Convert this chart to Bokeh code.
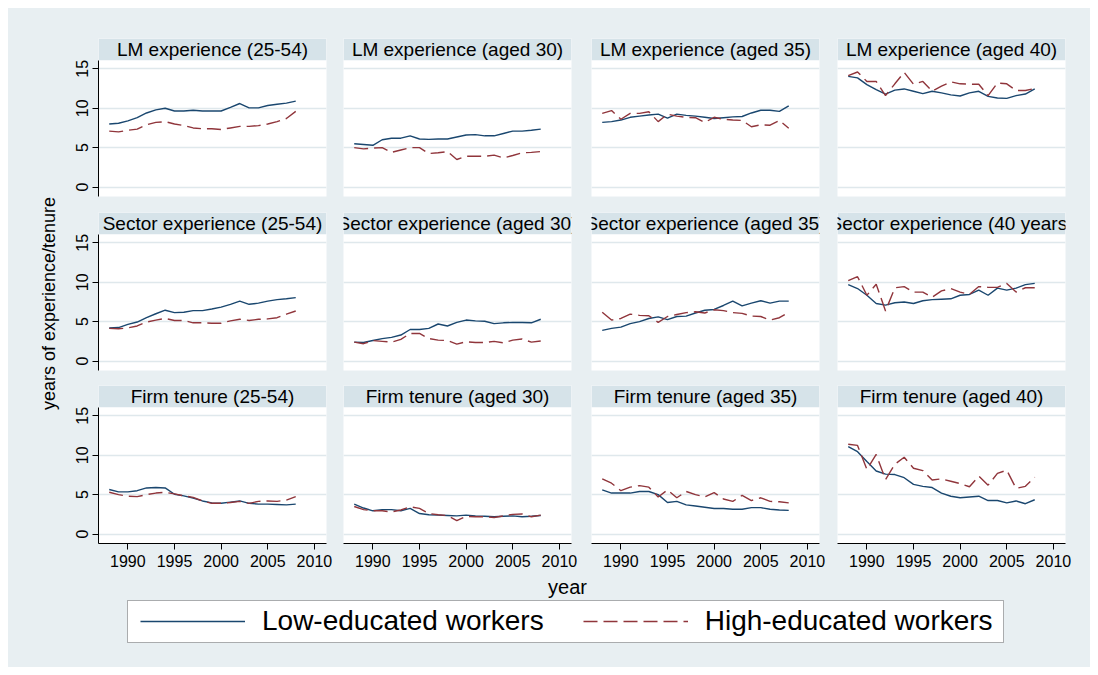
import math
from bokeh.plotting import figure
from bokeh.layouts import row, column
from bokeh.models import Range1d, FixedTicker, Label, BoxAnnotation, Legend, LegendItem
from bokeh.embed import file_html
from bokeh.resources import INLINE

# ---------------- data ----------------
years = list(range(1988, 2009))

titles_row1 = ["LM experience (25-54)", "LM experience (aged 30)", "LM experience (aged 35)", "LM experience (aged 40)"]
titles_row2 = ["Sector experience (25-54)", "Sector experience (aged 30)", "Sector experience (aged 35)", "Sector experience (40 years)"]
titles_row3 = ["Firm tenure (25-54)", "Firm tenure (aged 30)", "Firm tenure (aged 35)", "Firm tenure (aged 40)"]

lm_2554_low = [8.0, 8.1, 8.4, 8.8, 9.4, 9.8, 10.0, 9.65, 9.65, 9.75, 9.65, 9.65, 9.65, 10.1, 10.6, 10.05, 10.05, 10.35, 10.5, 10.65, 10.9]
lm_2554_high = [7.1, 7.0, 7.2, 7.35, 7.9, 8.2, 8.3, 8.0, 7.8, 7.5, 7.4, 7.4, 7.3, 7.5, 7.7, 7.7, 7.8, 8.0, 8.3, 8.7, 9.6]
lm_30_low = [5.5, 5.4, 5.3, 6.0, 6.2, 6.2, 6.5, 6.1, 6.05, 6.1, 6.1, 6.35, 6.6, 6.65, 6.5, 6.5, 6.8, 7.1, 7.1, 7.2, 7.35]
lm_30_high = [5.0, 4.85, 4.95, 5.0, 4.4, 4.7, 5.0, 5.0, 4.25, 4.35, 4.5, 3.5, 3.9, 3.9, 3.9, 4.05, 3.7, 4.0, 4.35, 4.4, 4.5]
lm_35_low = [8.2, 8.3, 8.5, 8.85, 9.0, 9.15, 9.25, 8.75, 9.25, 9.1, 9.0, 8.85, 8.7, 8.8, 8.9, 8.95, 9.4, 9.75, 9.75, 9.6, 10.3]
lm_35_high = [9.35, 9.7, 8.6, 9.35, 9.35, 9.55, 8.3, 9.25, 9.0, 8.85, 8.8, 8.2, 8.85, 8.6, 8.5, 8.45, 7.65, 7.9, 7.85, 8.45, 7.45]
lm_40_low = [14.05, 13.85, 13.0, 12.35, 11.8, 12.3, 12.45, 12.15, 11.85, 12.15, 11.95, 11.7, 11.55, 11.95, 12.15, 11.5, 11.3, 11.25, 11.6, 11.8, 12.45]
lm_40_high = [14.15, 14.6, 13.4, 13.4, 11.6, 13.1, 14.55, 13.05, 13.4, 12.15, 12.8, 13.35, 13.1, 13.05, 13.05, 11.6, 13.2, 13.1, 12.25, 12.25, 12.5]

sec_2554_low = [4.2, 4.25, 4.65, 4.95, 5.5, 6.0, 6.45, 6.15, 6.2, 6.4, 6.4, 6.6, 6.85, 7.2, 7.6, 7.2, 7.35, 7.6, 7.8, 7.9, 8.05]
sec_2554_high = [4.15, 4.1, 4.2, 4.45, 4.95, 5.2, 5.4, 5.15, 5.15, 4.85, 4.85, 4.8, 4.8, 5.1, 5.3, 5.15, 5.3, 5.35, 5.5, 5.95, 6.35]
sec_30_low = [2.4, 2.35, 2.6, 2.85, 3.0, 3.3, 4.0, 4.0, 4.15, 4.7, 4.45, 4.9, 5.2, 5.1, 5.05, 4.75, 4.85, 4.9, 4.9, 4.85, 5.3]
sec_30_high = [2.4, 2.2, 2.6, 2.5, 2.4, 2.75, 3.5, 3.5, 2.85, 2.65, 2.6, 2.15, 2.45, 2.35, 2.35, 2.5, 2.3, 2.65, 2.8, 2.4, 2.55]
sec_35_low = [3.9, 4.15, 4.3, 4.75, 5.0, 5.4, 5.6, 5.25, 5.65, 5.7, 6.1, 6.45, 6.55, 7.05, 7.6, 7.0, 7.35, 7.65, 7.35, 7.6, 7.6]
sec_35_high = [6.2, 5.2, 5.4, 5.95, 5.8, 5.75, 4.9, 5.65, 5.9, 6.15, 6.25, 6.1, 6.5, 6.4, 6.15, 6.05, 5.7, 5.65, 5.2, 5.5, 6.2]
sec_40_low = [9.7, 9.2, 8.35, 7.3, 7.1, 7.4, 7.5, 7.3, 7.65, 7.8, 7.85, 7.9, 8.35, 8.45, 9.0, 8.35, 9.25, 9.0, 9.25, 9.7, 9.85]
sec_40_high = [10.2, 10.7, 8.35, 9.75, 6.35, 9.3, 9.45, 8.75, 8.75, 8.1, 8.9, 9.2, 8.75, 8.45, 9.45, 9.35, 9.35, 9.85, 8.75, 9.3, 9.3]

firm_2554_low = [5.65, 5.35, 5.35, 5.5, 5.85, 5.9, 5.85, 5.05, 4.85, 4.55, 4.2, 3.95, 3.9, 4.05, 4.2, 3.9, 3.8, 3.8, 3.75, 3.7, 3.8]
firm_2554_high = [5.3, 5.0, 4.8, 4.75, 5.0, 5.2, 5.3, 5.1, 4.85, 4.65, 4.2, 3.9, 3.9, 4.0, 4.15, 3.9, 4.15, 4.2, 4.15, 4.3, 4.75]
firm_30_low = [3.8, 3.3, 2.95, 3.1, 3.1, 2.95, 3.25, 2.6, 2.45, 2.4, 2.35, 2.3, 2.4, 2.3, 2.25, 2.2, 2.25, 2.3, 2.2, 2.25, 2.35]
firm_30_high = [3.5, 3.1, 2.95, 2.95, 2.8, 3.05, 3.45, 3.25, 2.6, 2.45, 2.35, 1.7, 2.25, 2.2, 2.2, 2.1, 2.3, 2.5, 2.55, 2.2, 2.4]
firm_35_low = [5.6, 5.2, 5.2, 5.2, 5.4, 5.4, 5.0, 4.0, 4.15, 3.7, 3.55, 3.4, 3.25, 3.25, 3.15, 3.15, 3.35, 3.35, 3.15, 3.05, 3.0]
firm_35_high = [7.0, 6.45, 5.5, 5.95, 6.15, 5.95, 4.7, 5.6, 4.6, 5.4, 5.0, 4.7, 5.25, 4.45, 4.15, 4.9, 4.25, 4.6, 4.15, 4.1, 3.95]
firm_40_low = [11.1, 10.45, 9.2, 8.0, 7.6, 7.55, 7.15, 6.3, 6.05, 5.9, 5.2, 4.8, 4.6, 4.7, 4.8, 4.25, 4.25, 3.95, 4.2, 3.85, 4.35]
firm_40_high = [11.4, 11.25, 8.2, 10.1, 6.9, 8.85, 9.75, 8.35, 8.05, 6.85, 7.0, 6.7, 6.4, 6.0, 7.35, 6.2, 7.7, 8.1, 5.8, 6.05, 7.2]

y_ticks = [0, 5, 10, 15]
x_ticks = [1990, 1995, 2000, 2005, 2010]
legend_labels = ["Low-educated workers", "High-educated workers"]
y_title = "years of experience/tenure"
x_title = "year"

panels = [
    [(titles_row1[0], lm_2554_low, lm_2554_high), (titles_row1[1], lm_30_low, lm_30_high),
     (titles_row1[2], lm_35_low, lm_35_high), (titles_row1[3], lm_40_low, lm_40_high)],
    [(titles_row2[0], sec_2554_low, sec_2554_high), (titles_row2[1], sec_30_low, sec_30_high),
     (titles_row2[2], sec_35_low, sec_35_high), (titles_row2[3], sec_40_low, sec_40_high)],
    [(titles_row3[0], firm_2554_low, firm_2554_high), (titles_row3[1], firm_30_low, firm_30_high),
     (titles_row3[2], firm_35_low, firm_35_high), (titles_row3[3], firm_40_low, firm_40_high)],
]

# ---------------- style ----------------
BG = "#e8eff2"
STRIP = "#d6e3e9"
GRID = "#dfe8ec"
LOW_C = "#1a476f"
HIGH_C = "#90353b"
FONT = "Liberation Sans"
DASH = "14 6"
BGSTYLE = {"background-color": BG}

X0, X1 = 1986.85, 2011.3
Y0, Y1 = -1.2, 18.85
STRIP_BOTTOM = 16.1

col_w = [274, 247, 247, 262]
col_borders = [(38, 8), (9, 10), (10, 9), (9, 25)]
row_h = [196, 173, 200]
row_borders = [(30, 8), (8, 7), (8, 34)]

figs_rows = []
for r in range(3):
    figs = []
    for c in range(4):
        title, lo, hi = panels[r][c]
        p = figure(width=col_w[c], height=row_h[r],
                   x_range=Range1d(X0, X1), y_range=Range1d(Y0, Y1),
                   x_axis_location="below" if r == 2 else None,
                   y_axis_location="left" if c == 0 else None,
                   toolbar_location=None, output_backend="svg",
                   min_border_left=col_borders[c][0], min_border_right=col_borders[c][1],
                   min_border_top=row_borders[r][0], min_border_bottom=row_borders[r][1])
        p.background_fill_color = "white"
        p.border_fill_color = BG
        p.outline_line_color = None
        p.styles = BGSTYLE
        p.xgrid.visible = False
        p.ygrid.ticker = FixedTicker(ticks=y_ticks)
        p.ygrid.grid_line_color = GRID
        p.ygrid.grid_line_width = 1.5

        for ax in p.yaxis:
            ax.ticker = FixedTicker(ticks=y_ticks)
            ax.bounds = (Y0, STRIP_BOTTOM)
            ax.major_label_orientation = "vertical"
            ax.major_label_text_font = FONT
            ax.major_label_text_font_size = "16px"
            ax.major_label_text_color = "#000000"
            ax.major_tick_in = 0
            ax.major_tick_out = 6
            ax.minor_tick_out = 0
            ax.minor_tick_in = 0
            ax.axis_line_color = "#000000"
            ax.major_tick_line_color = "#000000"
            ax.major_label_standoff = 4
        for ax in p.xaxis:
            ax.ticker = FixedTicker(ticks=x_ticks)
            ax.major_label_text_font = FONT
            ax.major_label_text_font_size = "16px"
            ax.major_label_text_color = "#000000"
            ax.major_tick_in = 0
            ax.major_tick_out = 6
            ax.minor_tick_out = 0
            ax.minor_tick_in = 0
            ax.axis_line_color = "#000000"
            ax.major_tick_line_color = "#000000"
            ax.major_label_standoff = 5

        p.add_layout(BoxAnnotation(bottom=STRIP_BOTTOM, fill_color=STRIP, fill_alpha=1.0,
                                   line_color=None, level="underlay"))
        p.add_layout(Label(x=(X0 + X1) / 2, y=(STRIP_BOTTOM + Y1) / 2, text=title,
                           text_align="center", text_baseline="middle",
                           text_font=FONT, text_font_size="19px", text_color="#000000"))

        p.line(years, lo, line_color=LOW_C, line_width=1.4)
        p.line(years, hi, line_color=HIGH_C, line_width=1.4, line_dash=DASH)
        figs.append(p)
    figs_rows.append(row(*figs, spacing=0, styles=BGSTYLE))

grid_block = column(*figs_rows, spacing=0, styles=BGSTYLE)

# y-axis title panel
ytf = figure(width=52, height=sum(row_h), x_range=Range1d(0, 52), y_range=Range1d(sum(row_h), 0),
             toolbar_location=None, output_backend="svg",
             x_axis_location=None, y_axis_location=None,
             min_border=0)
ytf.grid.visible = False
ytf.outline_line_color = None
ytf.background_fill_color = BG
ytf.border_fill_color = BG
ytf.styles = BGSTYLE
ytf.add_layout(Label(x=40, y=295, text=y_title, angle=math.pi / 2,
                     text_align="center", text_baseline="middle",
                     text_font=FONT, text_font_size="18px", text_color="#000000"))

# bottom panel: x title + legend
bf = figure(width=1082, height=90, x_range=Range1d(0, 1082), y_range=Range1d(90, 0),
            toolbar_location=None, output_backend="svg",
            x_axis_location=None, y_axis_location=None, min_border=0)
bf.grid.visible = False
bf.outline_line_color = None
bf.background_fill_color = BG
bf.border_fill_color = BG
bf.styles = BGSTYLE
bf.add_layout(Label(x=559, y=9, text=x_title, text_align="center", text_baseline="middle",
                    text_font=FONT, text_font_size="20px", text_color="#000000"))
bf.add_layout(BoxAnnotation(left=119, right=995, top=23, bottom=65, fill_color="white",
                            fill_alpha=1.0, line_color="#000000", line_width=1))
# legend proxies (series data lies outside this panel's visible range)
r_lo = bf.line(years, lm_2554_low, line_color=LOW_C, line_width=1.6)
r_hi = bf.line(years, lm_2554_high, line_color=HIGH_C, line_width=1.6, line_dash=DASH)
leg = Legend(items=[LegendItem(label=legend_labels[0], renderers=[r_lo]),
                    LegendItem(label=legend_labels[1], renderers=[r_hi])],
             orientation="horizontal", location=(132, 30),
             label_text_font=FONT, label_text_font_size="28px", label_text_color="#000000",
             glyph_width=105, glyph_height=20, label_standoff=17, spacing=39,
             padding=0, margin=0, border_line_color=None, background_fill_alpha=0)
bf.add_layout(leg, "center")

top = row(ytf, grid_block, spacing=0, styles=BGSTYLE)
layout = column(top, bf, spacing=0, styles=BGSTYLE, margin=(8, 0, 0, 8))

open("out.html", "w").write(file_html(layout, INLINE))
